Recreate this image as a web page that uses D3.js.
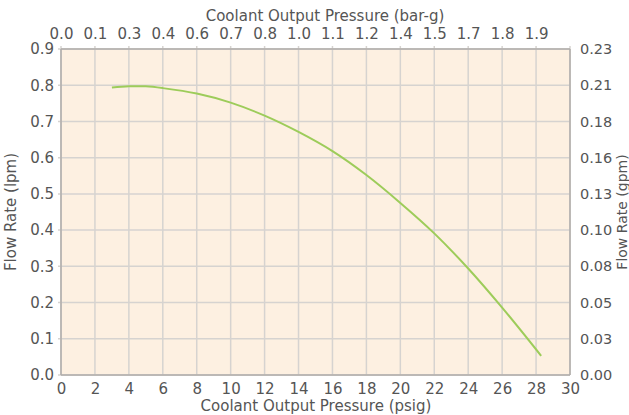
<!DOCTYPE html>
<html>
<head>
<meta charset="utf-8">
<script src="https://cdn.jsdelivr.net/npm/d3@7"></script>
<style>
  body { margin: 0; background: #fff; }
  svg text { font-family: "DejaVu Sans", sans-serif; fill: #555; }
</style>
</head>
<body>
<svg id="chart"></svg>
<script>
// flow curve
var psig = [3.0, 4, 5, 6, 8, 10, 12, 14, 16, 18, 20, 22, 24, 26, 28.3];
var lpm = [0.794, 0.797, 0.797, 0.792, 0.777, 0.752, 0.716, 0.671, 0.618, 0.552, 0.475, 0.391, 0.294, 0.186, 0.053];

var psigTicks = [0, 2, 4, 6, 8, 10, 12, 14, 16, 18, 20, 22, 24, 26, 28, 30];
var barTickLabels = ["0.0", "0.1", "0.3", "0.4", "0.6", "0.7", "0.8", "1.0", "1.1", "1.2", "1.4", "1.5", "1.7", "1.8", "1.9"];
var lpmTicks = [0, 0.1, 0.2, 0.3, 0.4, 0.5, 0.6, 0.7, 0.8, 0.9];
var gpmTickLabels = ["0.00", "0.03", "0.05", "0.08", "0.10", "0.13", "0.16", "0.18", "0.21", "0.23"];

var W = 629, H = 415;
var margin = {top: 49, right: 59, bottom: 40, left: 61};
var w = W - margin.left - margin.right, h = H - margin.top - margin.bottom;

var svg = d3.select('#chart').attr('width', W).attr('height', H);
var g = svg.append('g').attr('transform', 'translate(' + margin.left + ',' + margin.top + ')');

var x = d3.scaleLinear().domain([0, 30]).range([0, w]);
var y = d3.scaleLinear().domain([0, 0.9]).range([h, 0]);

g.append('rect').attr('width', w).attr('height', h).attr('fill', '#fdf0e1');

// grid
g.selectAll('.vgrid').data(psigTicks).enter().append('line')
  .attr('x1', function(d) { return x(d); }).attr('x2', function(d) { return x(d); })
  .attr('y1', -3).attr('y2', h)
  .attr('stroke', '#d6d3d0').attr('stroke-width', 1.5);
g.selectAll('.hgrid').data(lpmTicks).enter().append('line')
  .attr('x1', -3).attr('x2', w)
  .attr('y1', function(d) { return y(d); }).attr('y2', function(d) { return y(d); })
  .attr('stroke', '#d6d3d0').attr('stroke-width', 1.5);

// border
g.append('line').attr('x1', 0).attr('x2', 0).attr('y1', 0).attr('y2', h).attr('stroke', '#b0adaa').attr('stroke-width', 1.5);
g.append('line').attr('x1', w).attr('x2', w).attr('y1', 0).attr('y2', h).attr('stroke', '#b0adaa').attr('stroke-width', 1.5);
g.append('line').attr('x1', 0).attr('x2', w).attr('y1', h).attr('y2', h).attr('stroke', '#b0adaa').attr('stroke-width', 1.5);
g.append('line').attr('x1', 0).attr('x2', w).attr('y1', 0).attr('y2', 0).attr('stroke', '#b0adaa').attr('stroke-width', 1.5);

// axes (labels only, lines drawn above)
var fs = '15px';
var bottom = g.append('g').attr('transform', 'translate(0,' + h + ')')
  .call(d3.axisBottom(x).tickValues(psigTicks).tickSize(0).tickPadding(8).tickFormat(d3.format('d')));
var left = g.append('g')
  .call(d3.axisLeft(y).tickValues(lpmTicks).tickSize(0).tickPadding(7).tickFormat(d3.format('.1f')));
var top_ = g.append('g')
  .call(d3.axisTop(x).tickValues(psigTicks.slice(0, barTickLabels.length)).tickSize(0).tickPadding(10)
    .tickFormat(function(d, i) { return barTickLabels[i]; }));
var right = g.append('g').attr('transform', 'translate(' + w + ',0)')
  .call(d3.axisRight(y).tickValues(lpmTicks).tickSize(0).tickPadding(10)
    .tickFormat(function(d, i) { return gpmTickLabels[i]; }));
[bottom, left, top_, right].forEach(function(a) {
  a.select('.domain').remove();
  a.selectAll('text').style('font-size', fs).attr('fill', '#555');
});
right.selectAll('text').style('font-size', '14.5px');

// curve
var line = d3.line()
  .x(function(d, i) { return x(psig[i]); })
  .y(function(d) { return y(d); })
  .curve(d3.curveCatmullRom);
g.append('path').datum(lpm).attr('d', line)
  .attr('fill', 'none').attr('stroke', '#9dcc5a').attr('stroke-width', 2);

// titles
svg.append('text').attr('x', 325).attr('y', 21).attr('text-anchor', 'middle')
  .style('font-size', fs).text('Coolant Output Pressure (bar-g)');
svg.append('text').attr('x', 316).attr('y', 411).attr('text-anchor', 'middle')
  .style('font-size', fs).text('Coolant Output Pressure (psig)');
svg.append('text').attr('transform', 'translate(16,' + (margin.top + h / 2) + ') rotate(-90)')
  .attr('text-anchor', 'middle').style('font-size', fs).text('Flow Rate (lpm)');
svg.append('text').attr('transform', 'translate(627,' + (margin.top + h / 2) + ') rotate(-90)')
  .attr('text-anchor', 'middle').style('font-size', '14px').text('Flow Rate (gpm)');
</script>
</body>
</html>
